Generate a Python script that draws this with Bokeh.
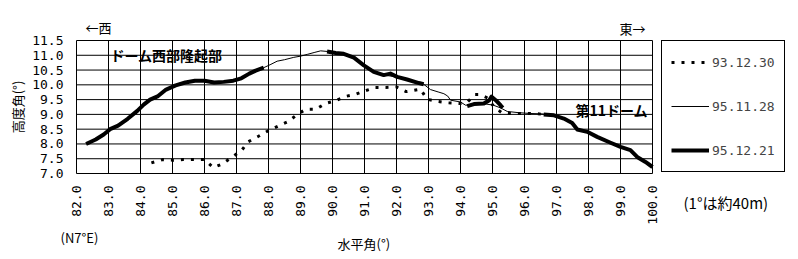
import math
from bokeh.plotting import figure
from bokeh.models import Range1d, FixedTicker, Legend, LegendItem, Label, LinearAxis
from bokeh.embed import file_html
from bokeh.resources import INLINE

# ---- data ----
x_ticks = [82, 83, 84, 85, 86, 87, 88, 89, 90, 91, 92, 93, 94, 95, 96, 97, 98, 99, 100]
x_tick_labels = ["82.0", "83.0", "84.0", "85.0", "86.0", "87.0", "88.0", "89.0", "90.0", "91.0",
                 "92.0", "93.0", "94.0", "95.0", "96.0", "97.0", "98.0", "99.0", "100.0"]
y_ticks = [7.0, 7.5, 8.0, 8.5, 9.0, 9.5, 10.0, 10.5, 11.0, 11.5]
y_tick_labels = ["7.0", "7.5", "8.0", "8.5", "9.0", "9.5", "10.0", "10.5", "11.0", "11.5"]

series_names = ["93.12.30", "95.11.28", "95.12.21"]

# 93.12.30 (dotted)
s1_x = [84.34, 84.69, 85.02, 85.33, 85.65, 86.0, 86.27, 86.55, 86.84, 87.16, 87.36, 87.67,
        87.98, 88.29, 88.62, 88.9, 89.16, 89.47, 89.78, 90.09, 90.41, 90.72, 91.05, 91.34,
        91.66, 91.99, 92.3, 92.75, 92.96, 93.27, 93.62, 93.95, 94.2, 94.45, 94.62, 94.85,
        95.05, 95.3, 95.6, 95.97, 96.3, 96.6]
s1_y = [7.36, 7.47, 7.45, 7.47, 7.47, 7.47, 7.2, 7.32, 7.54, 7.78, 8.07, 8.25,
        8.44, 8.6, 8.76, 9.0, 9.17, 9.17, 9.37, 9.46, 9.61, 9.68, 9.81, 9.91,
        9.91, 9.93, 9.77, 9.85, 9.51, 9.44, 9.39, 9.37, 9.4, 9.67, 9.67, 9.55,
        9.25, 9.05, 9.03, 9.03, 9.03, 9.0]

# 95.11.28 (thin)
s2_x = [87.6, 87.85, 88.05, 88.27, 88.5, 88.79, 89.0, 89.21, 89.45, 89.63, 89.83,
        90.3, 90.7, 91.0, 91.3, 91.6, 92.0, 92.4, 92.85, 93.06, 93.3, 93.48, 93.6,
        93.69, 94.0, 94.16, 94.5, 94.8, 95.03, 95.25, 95.46, 95.8, 96.19, 96.5, 96.7]
s2_y = [10.48, 10.58, 10.68, 10.8, 10.85, 10.93, 10.97, 11.03, 11.1, 11.15, 11.13,
        11.05, 10.9, 10.66, 10.44, 10.33, 10.27, 10.16, 10.02, 9.84, 9.76, 9.7, 9.62,
        9.48, 9.42, 9.31, 9.33, 9.35, 9.31, 9.22, 9.1, 9.06, 9.03, 9.02, 9.0]

# 95.12.21 (thick) - NaN marks gaps in the survey
nan = float("nan")
s3_x = [82.3, 82.6, 82.85, 83.05, 83.3, 83.6, 83.9, 84.1, 84.3, 84.55, 84.8, 85.1, 85.4,
        85.7, 86.0, 86.3, 86.6, 86.9, 87.15, 87.4, 87.6, 87.85, nan,
        89.83, 90.1, 90.35, 90.67, 90.98, 91.29, 91.6, 91.81, 92.02, 92.33, 92.7, 92.85, nan,
        94.21, 94.42, 94.73, 94.9, 94.97, 95.1, 95.25, 95.32, nan,
        96.6, 96.92, 97.23, 97.49, 97.65, 97.96, 98.27, 98.69, 99.0, 99.31, 99.52, 99.78, 100.0]
s3_y = [8.0, 8.15, 8.32, 8.5, 8.62, 8.85, 9.12, 9.33, 9.5, 9.62, 9.84, 9.98, 10.08,
        10.14, 10.14, 10.08, 10.1, 10.14, 10.22, 10.38, 10.48, 10.58, nan,
        11.13, 11.08, 11.05, 10.92, 10.66, 10.44, 10.33, 10.38, 10.27, 10.18, 10.06, 10.02, nan,
        9.28, 9.35, 9.37, 9.48, 9.6, 9.48, 9.31, 9.22, nan,
        9.0, 8.97, 8.86, 8.71, 8.49, 8.41, 8.24, 8.04, 7.9, 7.79, 7.56, 7.39, 7.22]

JP = "Noto Sans CJK JP"
MONO = "DejaVu Sans Mono"

# ---- layout: plot area box in canvas pixels ----
W, H = 798, 259
PL, PR, PT, PB = 76, 652, 40, 173
xmin, xmax = x_ticks[0], x_ticks[-1]
ymin, ymax = y_ticks[0], y_ticks[-1]
kx = (xmax - xmin) / (PR - PL)
ky = (ymax - ymin) / (PB - PT)
x_range = Range1d(xmin - PL * kx, xmax + (W - PR) * kx)
y_range = Range1d(ymin - (H - PB) * ky, ymax + PT * ky)

p = figure(width=W, height=H, x_range=x_range, y_range=y_range,
           output_backend="svg", toolbar_location=None, x_axis_type=None, y_axis_type=None,
           min_border=0, min_border_left=0, min_border_right=0, min_border_top=0, min_border_bottom=0)
p.background_fill_color = "white"
p.border_fill_color = "white"
p.outline_line_color = None
p.xgrid.visible = False
p.ygrid.visible = False

# axes, fixed at the edges of the plot area
xax = LinearAxis(ticker=FixedTicker(ticks=x_ticks), fixed_location=ymin, bounds=(xmin, xmax))
yax = LinearAxis(ticker=FixedTicker(ticks=y_ticks), fixed_location=xmin, bounds=(ymin, ymax))
xax.major_label_overrides = {t: l for t, l in zip(x_ticks, x_tick_labels)}
yax.major_label_overrides = {t: l for t, l in zip(y_ticks, y_tick_labels)}
xax.major_label_orientation = math.pi / 2
for ax in (xax, yax):
    ax.axis_line_color = None
    ax.major_tick_line_color = None
    ax.minor_tick_line_color = None
    ax.major_tick_in = 0
    ax.major_tick_out = 0
    ax.minor_tick_in = 0
    ax.minor_tick_out = 0
    ax.major_label_text_font = MONO
    ax.major_label_text_font_size = "13px"
    ax.major_label_text_color = "black"
xax.major_label_standoff = 12
yax.major_label_standoff = 13
p.add_layout(xax, "below")
p.add_layout(yax, "left")

# grid lines and plot-area border
p.segment(x0=x_ticks, y0=[ymin] * len(x_ticks), x1=x_ticks, y1=[ymax] * len(x_ticks),
          line_color="black", line_width=1)
p.segment(x0=[xmin] * len(y_ticks), y0=y_ticks, x1=[xmax] * len(y_ticks), y1=y_ticks,
          line_color="black", line_width=1)

r1 = p.line(s1_x, s1_y, line_color="black", line_width=3, line_dash="3 7")
r2 = p.line(s2_x, s2_y, line_color="black", line_width=1)
r3 = p.line(s3_x, s3_y, line_color="black", line_width=4, line_join="round")

legend = Legend(items=[LegendItem(label=series_names[0], renderers=[r1]),
                       LegendItem(label=series_names[1], renderers=[r2]),
                       LegendItem(label=series_names[2], renderers=[r3])],
                location=(661, H - 172))
legend.border_line_color = "black"
legend.border_line_width = 1
legend.border_line_alpha = 1
legend.background_fill_color = "white"
legend.background_fill_alpha = 1
legend.label_text_font = MONO
legend.label_text_font_size = "13px"
legend.glyph_width = 38
legend.glyph_height = 24
legend.label_height = 24
legend.spacing = 20
legend.padding = 9
legend.margin = 0
legend.label_standoff = 3
p.add_layout(legend)

def lab(x, y, text, size="13px", bold=False, align="left", angle=0.0, font=JP):
    p.add_layout(Label(x=x, y=y, text=text, text_font=font, text_font_size=size,
                       text_font_style="bold" if bold else "normal", text_align=align,
                       text_baseline="middle", angle=angle, text_color="black"))

lab(83.06, 11.0, "ドーム西部隆起部", size="14px", bold=True)
lab(97.59, 9.14, "第11ドーム", size="14px", bold=True)
lab(82.28, 11.95, "←西")
lab(99.78, 11.92, "東→", align="right")
lab(81.5, 4.845, "(N7°E)")
lab(90.16, 4.64, "水平角(°)")
lab(100.97, 6.03, "(1°は約40m)", size="15px")
lab(80.15, 9.25, "高度角(°)", align="center", angle=math.pi / 2)

open("out.html", "w").write(file_html(p, INLINE))
